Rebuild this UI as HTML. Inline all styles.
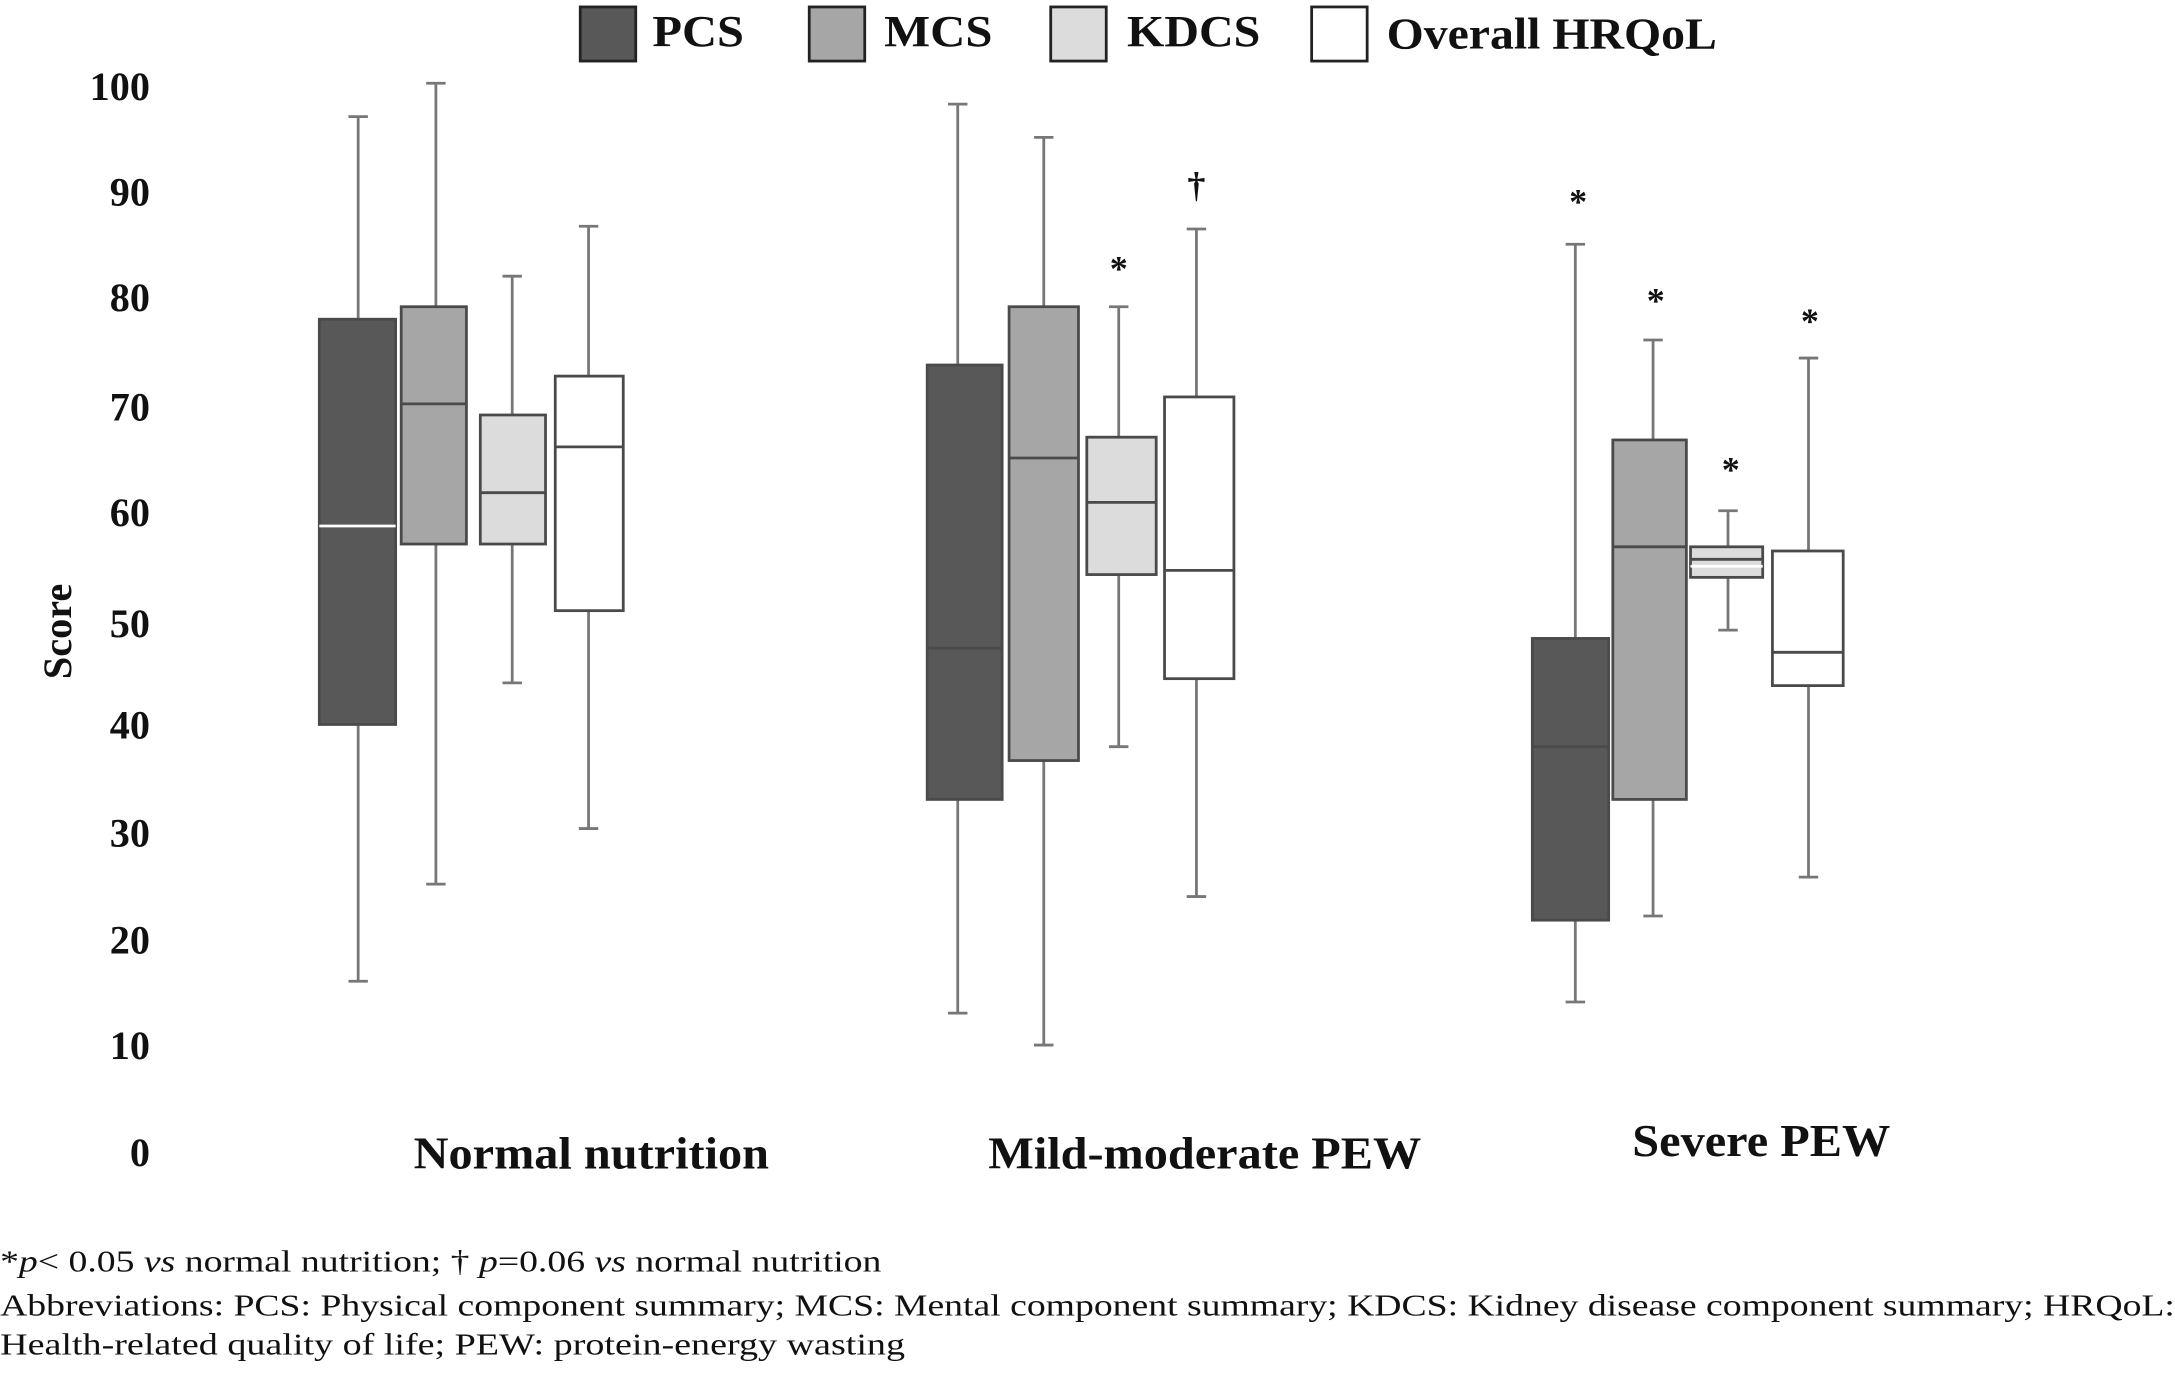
<!DOCTYPE html>
<html><head><meta charset="utf-8"><style>html,body{margin:0;padding:0;background:#fff}svg{display:block}</style></head><body>
<svg width="2175" height="1374" viewBox="0 0 1567 990" xmlns="http://www.w3.org/2000/svg" font-family="Liberation Serif, serif">
<rect width="1567" height="990" fill="#fff"/>
<g font-weight="bold" font-size="32" fill="#111">
<rect x="418" y="5" width="40" height="39" fill="#585858" stroke="#222" stroke-width="2"/><text x="470" y="33" textLength="66" lengthAdjust="spacingAndGlyphs">PCS</text>
<rect x="583" y="5" width="40" height="39" fill="#a6a6a6" stroke="#222" stroke-width="2"/><text x="637" y="33" textLength="78" lengthAdjust="spacingAndGlyphs">MCS</text>
<rect x="757" y="5" width="40" height="39" fill="#dcdcdc" stroke="#222" stroke-width="2"/><text x="812" y="33" textLength="96" lengthAdjust="spacingAndGlyphs">KDCS</text>
<rect x="945" y="5" width="40" height="39" fill="#fff" stroke="#222" stroke-width="2"/><text x="999" y="35" textLength="238" lengthAdjust="spacingAndGlyphs">Overall HRQoL</text>
</g>
<g font-weight="bold" font-size="29" fill="#111" text-anchor="end">
<text x="108" y="72">100</text><text x="108" y="148">90</text><text x="108" y="224">80</text><text x="108" y="303">70</text><text x="108" y="379">60</text><text x="108" y="459">50</text><text x="108" y="532">40</text><text x="108" y="610">30</text><text x="108" y="687">20</text><text x="108" y="763">10</text><text x="108" y="840">0</text>
</g>
<text transform="translate(51,455) rotate(-90)" text-anchor="middle" font-weight="bold" font-size="29" fill="#111">Score</text>
<g stroke="#777" stroke-width="2" fill="none">
<path d="M258 84V707M251 84H265M251 707H265"/>
<path d="M314 60V637M307 60H321M307 637H321"/>
<path d="M369 199V492M362 199H376M362 492H376"/>
<path d="M424 163V597M417 163H431M417 597H431"/>
<path d="M690 75V730M683 75H697M683 730H697"/>
<path d="M752 99V753M745 99H759M745 753H759"/>
<path d="M806 221V538M799 221H813M799 538H813"/>
<path d="M862 165V646M855 165H869M855 646H869"/>
<path d="M1135 176V722M1128 176H1142M1128 722H1142"/>
<path d="M1191 245V660M1184 245H1198M1184 660H1198"/>
<path d="M1245 368V454M1238 368H1252M1238 454H1252"/>
<path d="M1303 258V632M1296 258H1310M1296 632H1310"/>
</g>
<g stroke="#4a4a4a" stroke-width="2">
<rect x="230" y="230" width="55" height="292" fill="#585858"/><line x1="230" x2="285" y1="379" y2="379" stroke="#fff"/>
<rect x="289" y="221" width="47" height="171" fill="#a6a6a6"/><line x1="289" x2="336" y1="291" y2="291"/>
<rect x="346" y="299" width="47" height="93" fill="#dcdcdc"/><line x1="346" x2="393" y1="355" y2="355"/>
<rect x="400" y="271" width="49" height="169" fill="#fff"/><line x1="400" x2="449" y1="322" y2="322"/>
<rect x="668" y="263" width="54" height="313" fill="#585858"/><line x1="668" x2="722" y1="467" y2="467"/>
<rect x="727" y="221" width="50" height="327" fill="#a6a6a6"/><line x1="727" x2="777" y1="330" y2="330"/>
<rect x="783" y="315" width="50" height="99" fill="#dcdcdc"/><line x1="783" x2="833" y1="362" y2="362"/>
<rect x="839" y="286" width="50" height="203" fill="#fff"/><line x1="839" x2="889" y1="411" y2="411"/>
<rect x="1104" y="460" width="55" height="203" fill="#585858"/><line x1="1104" x2="1159" y1="538" y2="538"/>
<rect x="1162" y="317" width="53" height="259" fill="#a6a6a6"/><line x1="1162" x2="1215" y1="394" y2="394"/>
<rect x="1218" y="394" width="52" height="22" fill="#dcdcdc"/><line x1="1218" x2="1270" y1="403" y2="403"/><line x1="1218" x2="1270" y1="408" y2="408" stroke="#fff"/>
<rect x="1277" y="397" width="51" height="97" fill="#fff"/><line x1="1277" x2="1328" y1="470" y2="470"/>
</g>
<g font-weight="bold" font-size="26" fill="#111" text-anchor="middle">
<text x="806" y="202">*</text><text x="862" y="142">†</text>
<text x="1137" y="154">*</text><text x="1193" y="225">*</text><text x="1247" y="347">*</text><text x="1304" y="240">*</text>
</g>
<g font-weight="bold" font-size="33" fill="#111">
<text x="298" y="842" textLength="256" lengthAdjust="spacingAndGlyphs">Normal nutrition</text>
<text x="712" y="842" textLength="312" lengthAdjust="spacingAndGlyphs">Mild-moderate PEW</text>
<text x="1176" y="833" textLength="186" lengthAdjust="spacingAndGlyphs">Severe PEW</text>
</g>
<g font-size="22" fill="#111">
<text x="0" y="916" textLength="635" lengthAdjust="spacingAndGlyphs">*<tspan font-style="italic">p</tspan>&lt; 0.05 <tspan font-style="italic">vs</tspan> normal nutrition; † <tspan font-style="italic">p</tspan>=0.06 <tspan font-style="italic">vs</tspan> normal nutrition</text>
<text x="0" y="948" textLength="1567" lengthAdjust="spacingAndGlyphs">Abbreviations: PCS: Physical component summary; MCS: Mental component summary; KDCS: Kidney disease component summary;  HRQoL:</text>
<text x="0" y="976" textLength="652" lengthAdjust="spacingAndGlyphs">Health-related quality of life;  PEW: protein-energy wasting</text>
</g>
</svg>
</body></html>
